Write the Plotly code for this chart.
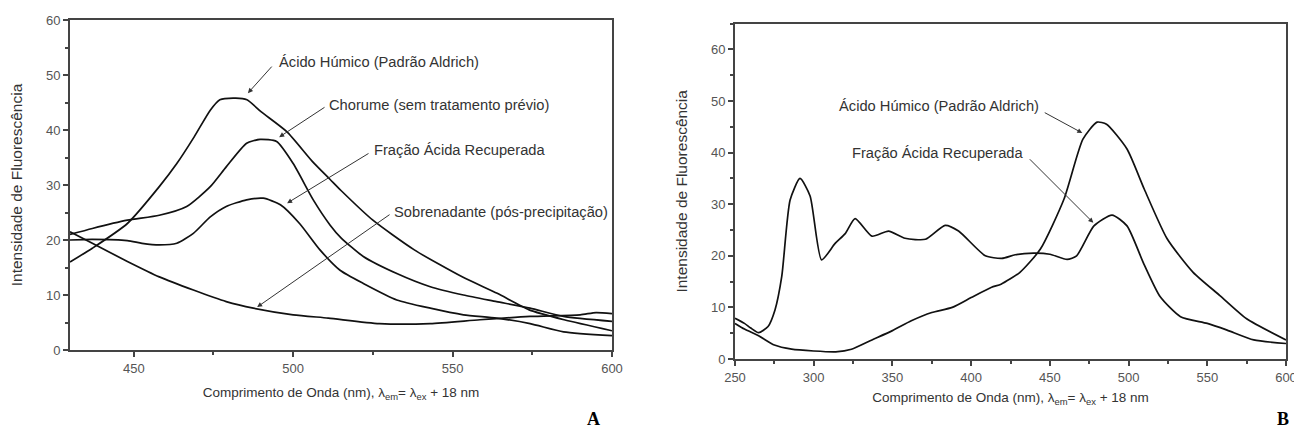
import plotly.graph_objects as go

# ---------------- Panel A data ----------------
humicA_x = [430, 437, 448, 458, 463.5, 469, 474, 477, 482, 485.5, 490, 498, 506, 511.6, 515, 525, 538, 553, 564, 574, 585, 600]
humicA_y = [16.0, 18.5, 23.0, 29.7, 33.9, 38.8, 43.6, 45.5, 45.8, 45.5, 43.3, 39.7, 34.3, 31.0, 29.0, 23.6, 18.2, 13.3, 10.3, 7.3, 5.5, 3.5]

chorume_x = [430, 437, 448, 458, 466.6, 474, 479, 485.4, 489.6, 494.8, 500, 506.3, 511.6, 515, 522, 532.5, 543, 553.4, 563.8, 574.3, 584.8, 600]
chorume_y = [21.0, 22.1, 23.6, 24.5, 26.1, 29.7, 33.3, 37.6, 38.3, 37.9, 33.9, 27.3, 22.7, 20.4, 17.0, 13.9, 11.5, 10.0, 8.8, 7.6, 6.1, 5.2]

fracaoA_x = [430, 437, 448, 452.6, 458, 463.5, 468.7, 474, 479, 485.4, 490.6, 496, 502, 508.4, 514.7, 522, 532.5, 543, 553.4, 563.8, 574.3, 584.8, 600]
fracaoA_y = [20.0, 20.1, 19.9, 19.4, 19.1, 19.4, 21.2, 24.2, 26.1, 27.3, 27.6, 26.4, 23.0, 18.2, 14.5, 12.1, 9.1, 7.6, 6.4, 5.8, 4.8, 3.3, 2.6]

sobr_x = [430, 437, 448, 458, 468.7, 479, 487.5, 500, 511, 527, 543, 558.6, 574.3, 590, 595, 600]
sobr_y = [21.5, 19.4, 16.1, 13.3, 10.9, 8.8, 7.6, 6.4, 5.8, 4.8, 4.8, 5.5, 6.1, 6.4, 6.8, 6.6]

# ---------------- Panel B data ----------------
humicB_x = [250, 256, 265, 275, 286, 300, 314, 324, 337, 350, 362, 375, 388, 400, 413, 419, 431, 444, 459, 471, 480, 486, 499, 510, 524.5, 541, 558, 575, 600]
humicB_y = [6.9, 5.8, 4.5, 2.7, 1.9, 1.55, 1.4, 1.9, 3.7, 5.5, 7.4, 9.0, 10.0, 11.9, 13.9, 14.5, 16.8, 21.3, 31.0, 42.6, 45.9, 45.5, 40.7, 32.9, 23.3, 16.8, 12.3, 7.8, 3.7]

fracaoB_x = [250, 256, 260, 265, 271, 275.4, 279.7, 285, 291.3, 297.7, 305, 313.6, 320, 326.3, 337, 347.5, 358, 371, 383.5, 392, 409, 419.5, 428, 439.6, 450, 461, 467, 478, 489.5, 499, 509.6, 520, 533, 550, 562.6, 579.5, 600]
fracaoB_y = [7.9, 6.9, 6.0, 5.1, 6.3, 9.5, 16.0, 30.8, 35.0, 31.6, 19.2, 22.4, 24.3, 27.2, 23.8, 24.8, 23.4, 23.2, 25.9, 24.8, 20.0, 19.5, 20.2, 20.5, 20.3, 19.3, 20.0, 25.8, 27.9, 25.8, 18.5, 12.1, 8.2, 6.9, 5.6, 3.7, 3.0]

# ---------------- Labels ----------------
labelsA = ["Ácido Húmico (Padrão Aldrich)", "Chorume (sem tratamento prévio)",
           "Fração Ácida Recuperada", "Sobrenadante (pós-precipitação)"]
labelsB = ["Ácido Húmico (Padrão Aldrich)", "Fração Ácida Recuperada"]
# text anchor (left), arrow tail, arrow head — data coords
textA = [(494.9, 52.4), (510.6, 44.5), (524.7, 36.4), (531.0, 25.1)]
tailA = [(493.7, 51.8), (510.3, 44.3), (524.1, 35.9), (530.7, 24.8)]
headA = [(485.8, 46.7), (495.6, 38.7), (498.1, 26.7), (488.7, 7.8)]
textB = [(314.8, 49.0), (323.1, 39.9)]
tailB = [(445.8, 47.9), (436.3, 39.0)]
headB = [(470.6, 43.8), (477.6, 26.4)]
panel_tags = ["A", "B"]

xtitle = "Comprimento de Onda (nm), λ<sub>em</sub>= λ<sub>ex</sub> + 18 nm"
ytitle = "Intensidade de Fluorescência"

LINE = dict(color="#111111", width=1.7, shape="spline", smoothing=0.6)
AX = "#444444"
FONT = "Liberation Sans, Arial, sans-serif"

fig = go.Figure()
for xs, ys in [(humicA_x, humicA_y), (chorume_x, chorume_y), (fracaoA_x, fracaoA_y), (sobr_x, sobr_y)]:
    fig.add_trace(go.Scatter(x=xs, y=ys, mode="lines", line=LINE, xaxis="x", yaxis="y", showlegend=False))
for xs, ys in [(humicB_x, humicB_y), (fracaoB_x, fracaoB_y)]:
    fig.add_trace(go.Scatter(x=xs, y=ys, mode="lines", line=LINE, xaxis="x2", yaxis="y2", showlegend=False))

# page body has an 8px margin -> work in page pixels minus that offset
OFF = 8
W, H = 1302 - OFF, 434 - OFF

def px_x(X):
    return (X - OFF) / W

def px_y(Y):
    return 1 - (Y - OFF) / H

def axis_common(**kw):
    d = dict(showline=True, mirror=True, linewidth=2, linecolor=AX, ticks="outside", ticklen=5,
             tickwidth=1.5, tickcolor=AX, showgrid=False, zeroline=False, automargin=False,
             tickfont=dict(family=FONT, size=13, color="#555555"),
             title_font=dict(family=FONT, size=13.5, color="#333333"))
    d.update(kw)
    return d

YT = dict(family=FONT, size=15.5, color="#333333")

fig.update_layout(
    width=W, height=H, margin=dict(l=0, r=0, t=0, b=0, autoexpand=False),
    plot_bgcolor="white", paper_bgcolor="white",
    xaxis=axis_common(domain=[px_x(70), px_x(612)], range=[430, 600], dtick=50, tick0=0, anchor="y",
                      minor=dict(dtick=25, tick0=0, ticks="outside", ticklen=3, tickcolor=AX),
                      title=dict(text=xtitle, standoff=13)),
    yaxis=axis_common(domain=[px_y(350), px_y(20)], range=[0, 60], dtick=10, anchor="x",
                      minor=dict(dtick=5, ticks="outside", ticklen=3, tickcolor=AX),
                      title=dict(text=ytitle, standoff=20, font=YT)),
    xaxis2=axis_common(domain=[px_x(735), px_x(1286)], range=[250, 600], dtick=50, tick0=0, anchor="y2",
                       minor=dict(dtick=25, tick0=0, ticks="outside", ticklen=3, tickcolor=AX),
                       title=dict(text=xtitle, standoff=9)),
    yaxis2=axis_common(domain=[px_y(359), px_y(23.6)], range=[0, 65], dtick=10, anchor="x2",
                       minor=dict(dtick=5, ticks="outside", ticklen=3, tickcolor=AX),
                       title=dict(text=ytitle, standoff=20, font=YT)),
)

ann = []
def add_labels(labels, texts, tails, heads, xr, yr):
    for lab, (tx, ty), (ax, ay), (hx, hy) in zip(labels, texts, tails, heads):
        ann.append(dict(x=tx, y=ty, xref=xr, yref=yr, text=lab, showarrow=False, xanchor="left",
                        yanchor="middle", font=dict(family=FONT, size=14.7, color="#333333")))
        ann.append(dict(x=hx, y=hy, ax=ax, ay=ay, xref=xr, yref=yr, axref=xr, ayref=yr, text="",
                        showarrow=True, arrowhead=2, arrowsize=1, arrowwidth=1, arrowcolor="#333333",
                        standoff=0))

add_labels(labelsA, textA, tailA, headA, "x", "y")
add_labels(labelsB, textB, tailB, headB, "x2", "y2")

for tag, X in zip(panel_tags, [593, 1283]):
    ann.append(dict(x=px_x(X), y=px_y(419), xref="paper", yref="paper", text="<b>" + tag + "</b>",
                    showarrow=False, xanchor="center", yanchor="middle",
                    font=dict(family="Liberation Serif, Times New Roman, serif", size=18, color="black")))
fig.update_layout(annotations=ann)

fig.write_html("out.html")
